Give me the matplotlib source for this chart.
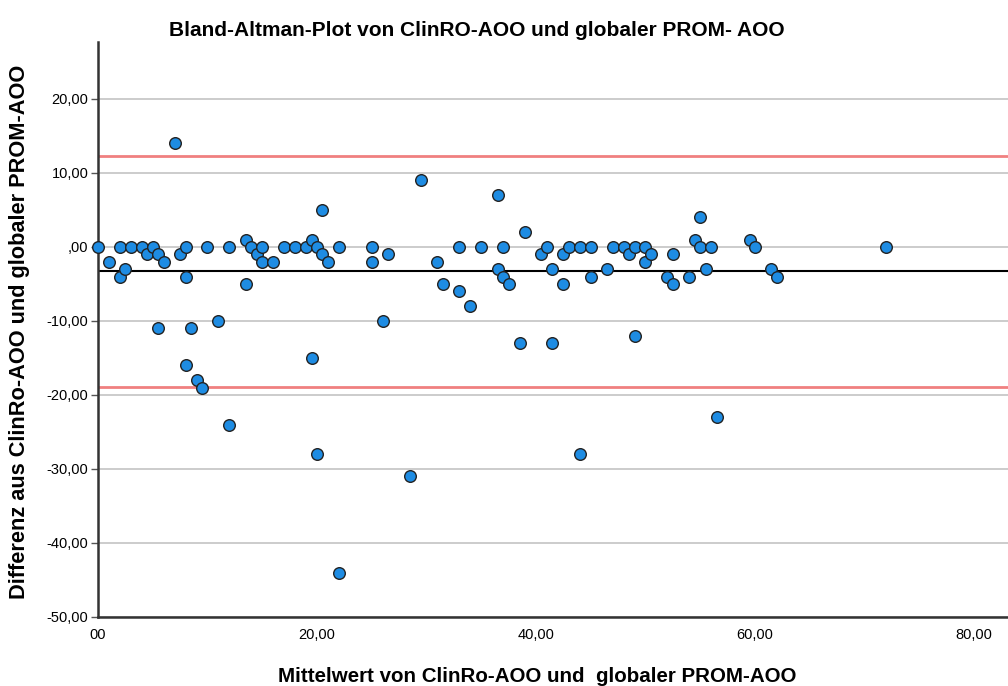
import matplotlib
matplotlib.use("Agg")
import matplotlib.pyplot as plt
import numpy as np

# Mittelwert (x) und Differenz (y)
mean_vals = [0, 1, 2, 2, 2.5, 3, 4, 4.5, 5, 5.5, 6, 5.5, 7, 7.5, 8, 8, 8, 8.5, 9, 9.5,
             10, 11, 12, 12, 13.5, 13.5, 14, 14.5, 15, 15, 16, 17, 18, 19, 19.5, 19.5,
             20, 20, 20.5, 20.5, 21, 22, 22, 25, 25, 26, 26.5, 28.5, 29.5, 31, 31.5,
             33, 33, 34, 35, 36.5, 36.5, 37, 37, 37.5, 38.5, 39, 40.5, 41, 41.5, 41.5,
             42.5, 42.5, 43, 44, 44, 45, 45, 46.5, 47, 48, 48.5, 49, 49, 50, 50, 50.5,
             52, 52.5, 52.5, 54, 54.5, 55, 55, 55.5, 56, 56.5, 59.5, 60, 61.5, 62, 72]
diff_vals = [0, -2, 0, -4, -3, 0, 0, -1, 0, -1, -2, -11, 14, -1, 0, -4, -16, -11, -18, -19,
             0, -10, 0, -24, 1, -5, 0, -1, 0, -2, -2, 0, 0, 0, 1, -15,
             0, -28, 5, -1, -2, 0, -44, 0, -2, -10, -1, -31, 9, -2, -5,
             0, -6, -8, 0, 7, -3, 0, -4, -5, -13, 2, -1, 0, -3, -13,
             -1, -5, 0, 0, -28, 0, -4, -3, 0, 0, -1, 0, -12, 0, -2, -1,
             -4, -1, -5, -4, 1, 4, 0, -3, 0, -23, 1, 0, -3, -4, 0]

mean_diff = -3.25
upper_loa = 12.3
lower_loa = -18.9

y_ticks = [-50, -40, -30, -20, -10, 0, 10, 20]
y_labels = ["-50,00", "-40,00", "-30,00", "-20,00", "-10,00", ",00", "10,00", "20,00"]
x_ticks = [0, 20, 40, 60, 80]
x_labels = ["00", "20,00", "40,00", "60,00", "80,00"]

plt.rcParams['font.family'] = ['Liberation Sans', 'DejaVu Sans']

fig = plt.figure(figsize=(10.08, 6.86), dpi=100)
ax = fig.add_axes([98 / 1008, 69 / 686, 1 - 98 / 1008 + 0.001, (617 - 42) / 686])

ax.set_xlim(0, 83.2)
ax.set_ylim(-50, 27.7)

ax.set_yticks(y_ticks)
ax.set_yticklabels(y_labels)
ax.set_xticks(x_ticks)
ax.set_xticklabels(x_labels)
ax.tick_params(axis='y', length=5, width=1, color='#555555', labelsize=10.5, pad=2)
ax.tick_params(axis='x', length=0, labelsize=10.5, pad=8)

ax.grid(axis='y', color='#c4c4c4', linewidth=1.2, zorder=0)
ax.set_axisbelow(True)

for s in ['top', 'right']:
    ax.spines[s].set_visible(False)
for s in ['left', 'bottom']:
    ax.spines[s].set_color('#333333')
    ax.spines[s].set_linewidth(1.8)

ax.axhline(upper_loa, color='#f08080', linewidth=2, zorder=1)
ax.axhline(lower_loa, color='#f08080', linewidth=2, zorder=1)
ax.axhline(mean_diff, color='black', linewidth=1.5, zorder=1)

ax.scatter(mean_vals, diff_vals, s=70, color='#1e8ce3', edgecolors='#222222',
           linewidths=1.0, zorder=3, clip_on=False)

fig.text(477 / 1008, 1 - 30 / 686, "Bland-Altman-Plot von ClinRO-AOO und globaler PROM- AOO",
         ha='center', va='center', fontsize=15, fontweight='bold')
fig.text(20 / 1008, 1 - 332 / 686, "Differenz aus ClinRo-AOO und globaler PROM-AOO",
         ha='center', va='center', rotation=90, fontsize=15.7, fontweight='bold')
fig.text(537 / 1008, 1 - 677 / 686, "Mittelwert von ClinRo-AOO und  globaler PROM-AOO",
         ha='center', va='center', fontsize=14.8, fontweight='bold')

fig.savefig("out.png", dpi=100)
